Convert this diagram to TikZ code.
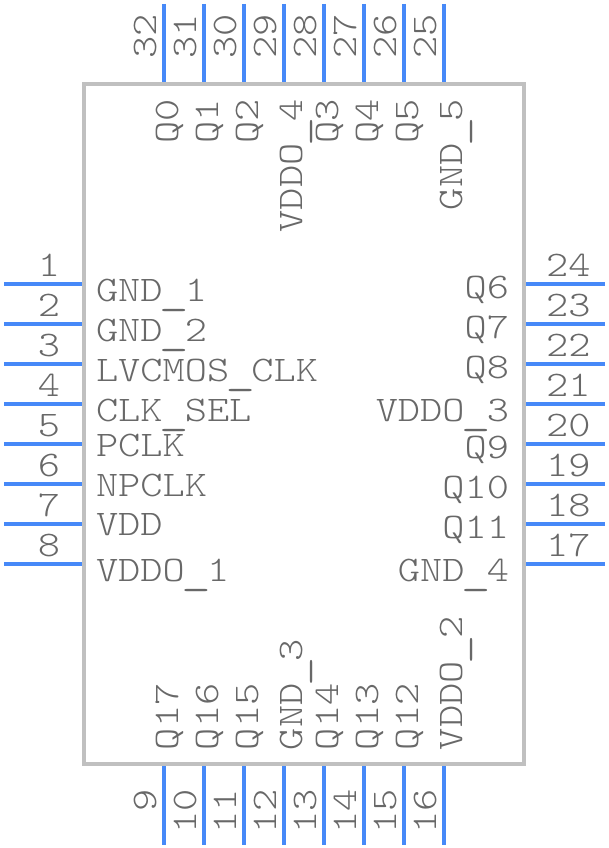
\documentclass[tikz,border=0pt]{standalone}
\usepackage{fontspec}
\newfontfamily\pinfont[FakeStretch=1.175]{Latin Modern Mono Light}
\newfontfamily\barfont[FakeStretch=1.58]{Latin Modern Mono}
\newcommand{\lowbar}{\makebox[22.2pt][c]{\raisebox{-3.5pt}{\barfont\_}}}
\definecolor{pinblue}{HTML}{4689F8}
\definecolor{bodygray}{HTML}{C0C0C0}
\definecolor{textgray}{HTML}{686868}
\tikzset{
  pinline/.style={draw=pinblue,line width=4pt},
  bodybox/.style={draw=bodygray,line width=4pt},
  lbl/.style={inner sep=0pt,outer sep=0pt,text=textgray,font=\pinfont\fontsize{36}{36}\selectfont},
  ltext/.style={lbl,anchor=base west},
  rtext/.style={lbl,anchor=base east},
  uptext/.style={lbl,anchor=base west,rotate=90},
  upendtext/.style={lbl,anchor=base east,rotate=90},
}
\begin{document}
\begin{tikzpicture}[x=1pt,y=-1pt]
\useasboundingbox (0,0) rectangle (608,848);
\draw[bodybox] (84,84) rectangle (524,764);
% left pins
\foreach \n/\y in {1/284,2/324,3/364,4/404,5/444,6/484,7/524,8/564}{
  \coordinate (pa\n) at (4,\y); \coordinate (pb\n) at (82,\y);
  \draw[pinline] (pa\n) -- (pb\n);
  \node[rtext] (num\n) at (60,\y-8) {\n};
}
% right pins
\foreach \n/\y in {24/284,23/324,22/364,21/404,20/444,19/484,18/524,17/564}{
  \coordinate (pa\n) at (526,\y); \coordinate (pb\n) at (605,\y);
  \draw[pinline] (pa\n) -- (pb\n);
  \node[rtext] (num\n) at (590.5,\y-8) {\n};
}
% top pins
\foreach \n/\x in {32/164,31/204,30/244,29/284,28/324,27/364,26/404,25/444}{
  \coordinate (pa\n) at (\x,4); \coordinate (pb\n) at (\x,82);
  \draw[pinline] (pa\n) -- (pb\n);
  \node[uptext] (num\n) at (\x-8,59) {\n};
}
% bottom pins
\foreach \n/\x in {9/164,10/204,11/244,12/284,13/324,14/364,15/404,16/444}{
  \coordinate (pa\n) at (\x,766); \coordinate (pb\n) at (\x,845);
  \draw[pinline] (pa\n) -- (pb\n);
  \node[upendtext] (num\n) at (\x-8,789) {\n};
}
% left labels
\node[ltext] (l1) at (96,301) {GND\lowbar 1};
\node[ltext] (l2) at (96,341) {GND\lowbar 2};
\node[ltext] (l3) at (96,381) {LVCMOS\lowbar CLK};
\node[ltext] (l4) at (96,421) {CLK\lowbar SEL};
\node[ltext] (l5) at (96,456) {PCLK};
\node[ltext] (l6) at (96,496) {NPCLK};
\node[ltext] (l7) at (96,535) {VDD};
\node[ltext] (l8) at (96,581) {VDDO\lowbar 1};
% right labels
\node[rtext] (r24) at (509,298) {Q6};
\node[rtext] (r23) at (509,338) {Q7};
\node[rtext] (r22) at (509,378) {Q8};
\node[rtext] (r21) at (509,421) {VDDO\lowbar 3};
\node[rtext] (r20) at (509,458) {Q9};
\node[rtext] (r19) at (509,498) {Q10};
\node[rtext] (r18) at (509,538) {Q11};
\node[rtext] (r17) at (509,581) {GND\lowbar 4};
% top labels
\node[upendtext] (t32) at (178,99) {Q0};
\node[upendtext] (t31) at (218,99) {Q1};
\node[upendtext] (t30) at (258,99) {Q2};
\node[upendtext] (t29) at (302,99) {VDDO\lowbar 4};
\node[upendtext] (t28) at (338,99) {Q3};
\node[upendtext] (t27) at (378,99) {Q4};
\node[upendtext] (t26) at (418,99) {Q5};
\node[upendtext] (t25) at (462,99) {GND\lowbar 5};
% bottom labels
\node[uptext] (b9) at (178,750) {Q17};
\node[uptext] (b10) at (218,750) {Q16};
\node[uptext] (b11) at (258,750) {Q15};
\node[uptext] (b12) at (302,750) {GND\lowbar 3};
\node[uptext] (b13) at (338,750) {Q14};
\node[uptext] (b14) at (378,750) {Q13};
\node[uptext] (b15) at (418,750) {Q12};
\node[uptext] (b16) at (462,750) {VDDO\lowbar 2};
\end{tikzpicture}
\end{document}
